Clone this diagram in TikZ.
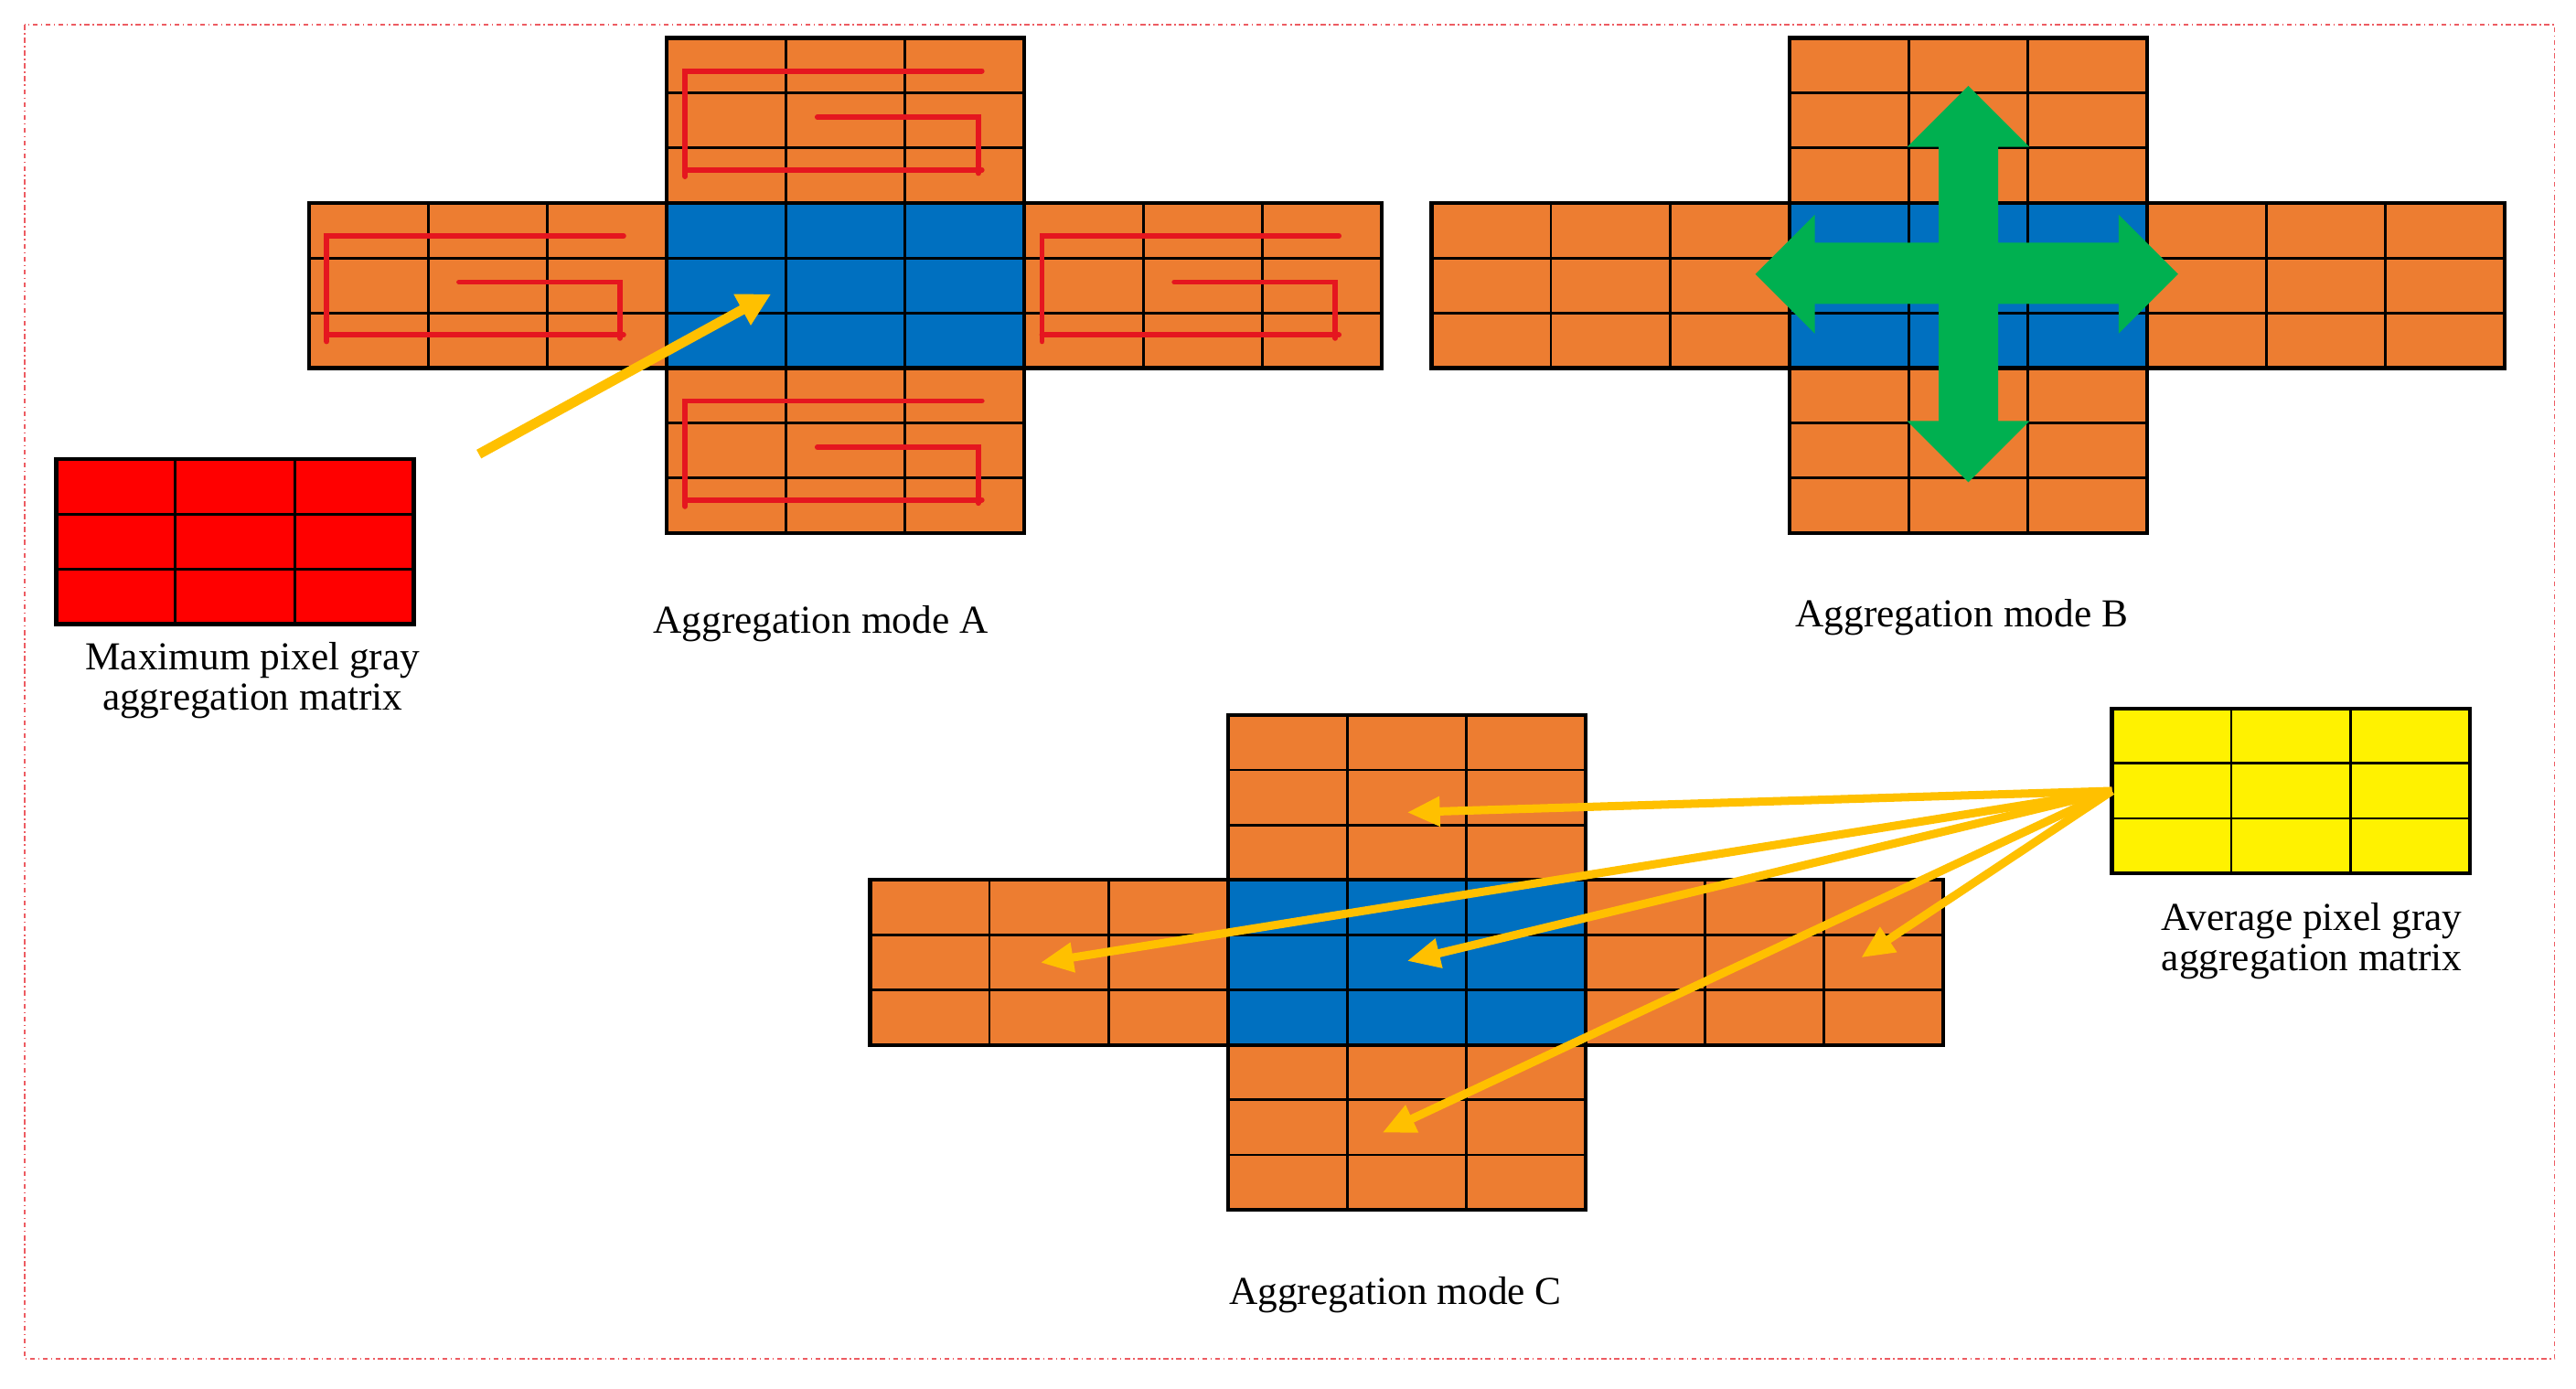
\documentclass[tikz,border=0pt]{standalone}
\usepackage{fontspec}
\setmainfont{Liberation Serif}
\usetikzlibrary{arrows.meta}
\definecolor{org}{HTML}{ED7D31}
\definecolor{blu}{HTML}{0070C0}
\definecolor{gld}{HTML}{FFC000}
\definecolor{grn}{HTML}{00B050}
\definecolor{pth}{HTML}{E5161F}
\tikzset{
  lbl/.style={font=\fontsize{24}{28}\selectfont, align=center},
  cell/.style={line width=1.6pt},
  outer/.style={line width=2.4pt},
  feed/.style={gld, line width=5pt, -{Triangle[width=17pt,length=20pt]}},
  snake/.style={pth, line width=3.2pt, line cap=round},
}
\newcommand{\mygrid}[5]{% x0 y0 cols rows colour
  \fill[#5] (#1,#2) rectangle ++(#3*72.2,#4*33.3);
  \foreach \i in {1,...,\numexpr#3-1\relax}{\draw[cell] (#1+\i*72.2,#2) -- ++(0,#4*33.3);}
  \foreach \j in {1,...,\numexpr#4-1\relax}{\draw[cell] (#1,#2+\j*33.3) -- ++(#3*72.2,0);}
  \draw[outer] (#1,#2) rectangle ++(#3*72.2,#4*33.3);
}
\newcommand{\mycross}[2]{% left x, top y
  \mygrid{#1+216.6}{#2}{3}{3}{org}
  \mygrid{#1+216.6}{#2+199.8}{3}{3}{org}
  \mygrid{#1}{#2+99.9}{3}{3}{org}
  \mygrid{#1+433.2}{#2+99.9}{3}{3}{org}
  \mygrid{#1+216.6}{#2+99.9}{3}{3}{blu}
  \draw[outer] (#1+216.6,#2) -- ++(0,299.7) (#1+433.2,#2) -- ++(0,299.7)
               (#1,#2+99.9) -- ++(649.8,0) (#1,#2+199.8) -- ++(649.8,0);
}
\newcommand{\mysnake}[2]{% arm left x, top y (216.6 x 99.9)
  \draw[snake] (#1+0.88*216.6,#2+0.2*99.9) -- (#1+0.05*216.6,#2+0.2*99.9)
     -- (#1+0.05*216.6,#2+0.84*99.9);
  \draw[snake] (#1+0.05*216.6,#2+0.8*99.9) -- (#1+0.88*216.6,#2+0.8*99.9);
  \draw[snake] (#1+0.87*216.6,#2+0.82*99.9) -- (#1+0.87*216.6,#2+0.48*99.9)
     -- (#1+0.42*216.6,#2+0.48*99.9);
}
\begin{document}
\begin{tikzpicture}[x=1pt,y=-1pt]
\useasboundingbox (0,0) rectangle (1560,841);
\draw[pth!70, line width=0.8pt, dash dot] (15,15) rectangle (1547,823);
% Mode A
\mycross{187}{23}
\mysnake{404}{23}
\mysnake{187}{122.9}
\mysnake{620.2}{122.9}
\mysnake{404}{222.8}
% red matrix
\mygrid{34}{278}{3}{3}{red}
\coordinate (redc) at (290,275);
\coordinate (cA) at (467,178);
\draw[gld, line width=6pt, -{Triangle[width=20pt,length=20pt]}] (redc) -- (cA);
\node[lbl] (lblA) at (497,378) {Aggregation mode A};
\node[lbl] (lblR) at (153,412) {Maximum pixel gray\\[-4pt]aggregation matrix};
% Mode B
\mycross{867}{23}
\fill[grn] (1192,52) -- (1229,89) -- (1210,89) -- (1210,147) -- (1283,147) -- (1283,130)
  -- (1319,166) -- (1283,202) -- (1283,184) -- (1210,184) -- (1210,255) -- (1229,255)
  -- (1192,292) -- (1155,255) -- (1174,255) -- (1174,184) -- (1099,184) -- (1099,202)
  -- (1063,166) -- (1099,130) -- (1099,147) -- (1174,147) -- (1174,89) -- (1155,89) -- cycle;
\node[lbl] (lblB) at (1188,374) {Aggregation mode B};
% Mode C
\mycross{527}{433}
\mygrid{1279}{429}{3}{3}{yellow}
\coordinate (ys) at (1279,479);
\coordinate (c1) at (852,492);
\coordinate (c2) at (630,583);
\coordinate (c3) at (852,582);
\coordinate (c4) at (837,686);
\coordinate (c5) at (1127,580);
\foreach \t in {c1,c2,c3,c4,c5}{\draw[feed] (ys) -- (\t);}
\node[lbl] (lblC) at (845,784) {Aggregation mode C};
\node[lbl] (lblY) at (1400,570) {Average pixel gray\\[-4pt]aggregation matrix};
\end{tikzpicture}
\end{document}
